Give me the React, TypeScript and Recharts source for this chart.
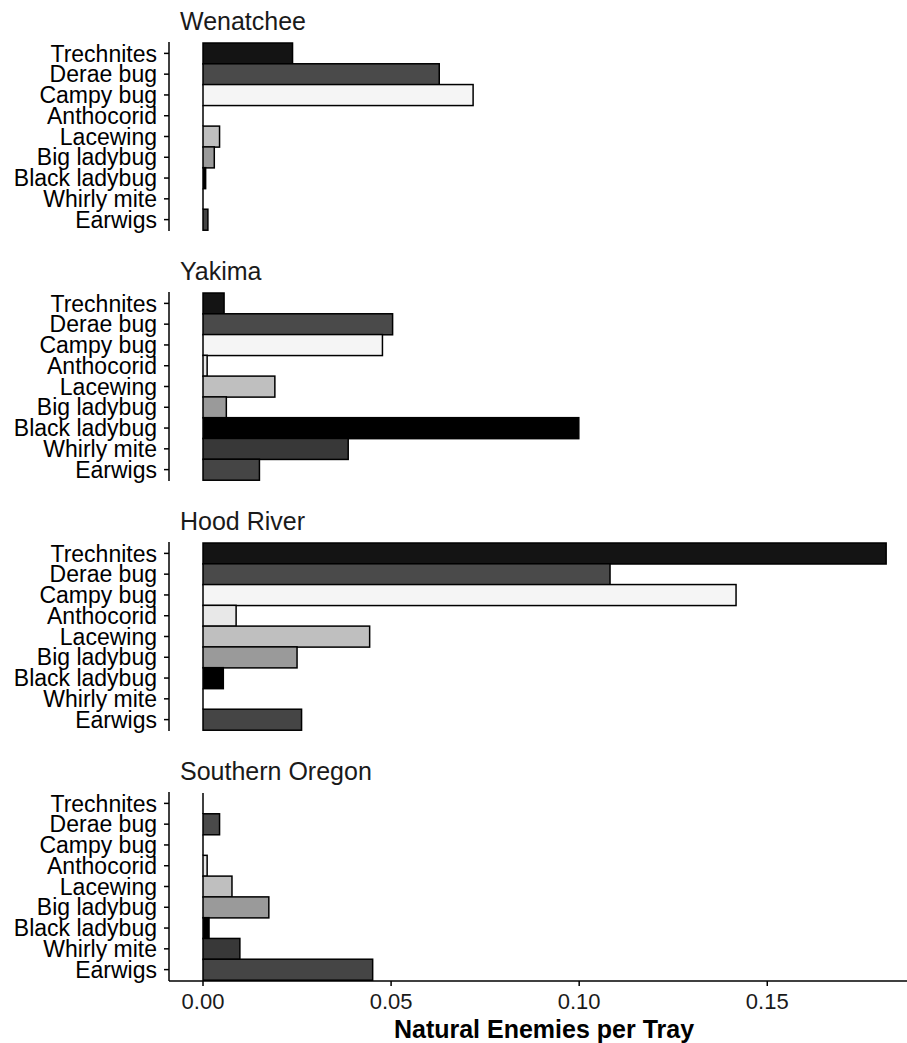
import React from 'react';
import { BarChart, Bar, XAxis, YAxis, Cell } from 'recharts';

// Natural enemy taxa, listed top to bottom in each panel
const categories = [
  'Trechnites',
  'Derae bug',
  'Campy bug',
  'Anthocorid',
  'Lacewing',
  'Big ladybug',
  'Black ladybug',
  'Whirly mite',
  'Earwigs',
];

// Grey fill used for each taxon
const taxonFills = [
  '#141414',
  '#4a4a4a',
  '#f5f5f5',
  '#e8e8e8',
  '#bfbfbf',
  '#9a9a9a',
  '#000000',
  '#383838',
  '#454545',
];

const regions = ['Wenatchee', 'Yakima', 'Hood River', 'Southern Oregon'];

// Natural enemies per tray, by region (same order as categories)
const wenatchee = [0.0238, 0.0628, 0.0718, 0, 0.0044, 0.003, 0.0007, 0, 0.0013];
const yakima = [0.0056, 0.0504, 0.0477, 0.0011, 0.0191, 0.0062, 0.0999, 0.0386, 0.015];
const hoodRiver = [0.1816, 0.1082, 0.1417, 0.0088, 0.0443, 0.025, 0.0054, 0, 0.0262];
const southernOregon = [0, 0.0044, 0, 0.0011, 0.0077, 0.0175, 0.0016, 0.0098, 0.0451];

const regionValues = [wenatchee, yakima, hoodRiver, southernOregon];

const xTicks = [0, 0.05, 0.1, 0.15];
const xDomain: [number, number] = [-0.00904, 0.1906];
const xTitle = 'Natural Enemies per Tray';

const FONT = '"Liberation Sans", Arial, Helvetica, sans-serif';
const PANEL_H = 250;
const CHART_W = 930;
const LINE_W = 1.5;

// Bars drawn with a black outline; zero-length bars still show their edge
const OutlinedBar = (props: any) => {
  const { x, y, width, height, fill } = props;
  if (!isFinite(x) || !isFinite(y)) return null;
  if (Math.abs(width) < 0.5) {
    return <line x1={x} x2={x} y1={y} y2={y + height} stroke="#000" strokeWidth={LINE_W} />;
  }
  return (
    <rect x={x} y={y} width={width} height={height} fill={fill} stroke="#000" strokeWidth={LINE_W} />
  );
};

const Panel = ({ index }: { index: number }) => {
  const isLast = index === regions.length - 1;
  const values = regionValues[index];
  const data = categories.map((name, i) => ({ name, value: values[i] }));
  const height = isLast ? 293 : PANEL_H;
  return (
    <div style={{ position: 'absolute', left: 0, top: index * PANEL_H, width: CHART_W, height }}>
      <BarChart
        width={CHART_W}
        height={height}
        data={data}
        layout="vertical"
        barCategoryGap={0}
        margin={{ top: 42, right: 10, bottom: isLast ? 0 : 19, left: 0 }}
      >
        <XAxis
          type="number"
          domain={xDomain}
          allowDataOverflow
          ticks={xTicks}
          hide={!isLast}
          height={isLast ? 62 : 0}
          tickFormatter={(v: number) => v.toFixed(2)}
          axisLine={{ stroke: '#000', strokeWidth: LINE_W }}
          tickLine={{ stroke: '#000', strokeWidth: LINE_W }}
          tickSize={5}
          tickMargin={7}
          tick={{ fill: '#1a1a1a', fontSize: 22, fontFamily: FONT }}
        />
        <YAxis
          type="category"
          dataKey="name"
          width={169}
          interval={0}
          padding={{ top: 1, bottom: 1 }}
          axisLine={{ stroke: '#000', strokeWidth: LINE_W }}
          tickLine={{ stroke: '#000', strokeWidth: LINE_W }}
          tickSize={5}
          tickMargin={7}
          tick={{ fill: '#000', fontSize: 23, fontFamily: FONT }}
        />
        <Bar dataKey="value" isAnimationActive={false} shape={OutlinedBar}>
          {data.map((d, i) => (
            <Cell key={d.name} fill={taxonFills[i]} />
          ))}
        </Bar>
      </BarChart>
      <svg
        width={CHART_W}
        height={40}
        style={{ position: 'absolute', left: 0, top: 0, pointerEvents: 'none' }}
      >
        <text x={180} y={30} fontSize={25} fontFamily={FONT} fill="#1a1a1a">
          {regions[index]}
        </text>
      </svg>
    </div>
  );
};

export default function App() {
  return (
    <div
      style={{
        position: 'absolute',
        left: 0,
        top: 0,
        width: 907,
        height: 1043,
        overflow: 'hidden',
        background: '#fff',
        fontFamily: FONT,
      }}
    >
      {regions.map((r, i) => (
        <Panel key={r} index={i} />
      ))}
      <svg
        width={907}
        height={60}
        style={{ position: 'absolute', left: 0, top: 1000, pointerEvents: 'none' }}
      >
        <text
          x={544}
          y={38}
          textAnchor="middle"
          fontSize={25}
          fontWeight="bold"
          fontFamily={FONT}
          fill="#000"
        >
          {xTitle}
        </text>
      </svg>
    </div>
  );
}
